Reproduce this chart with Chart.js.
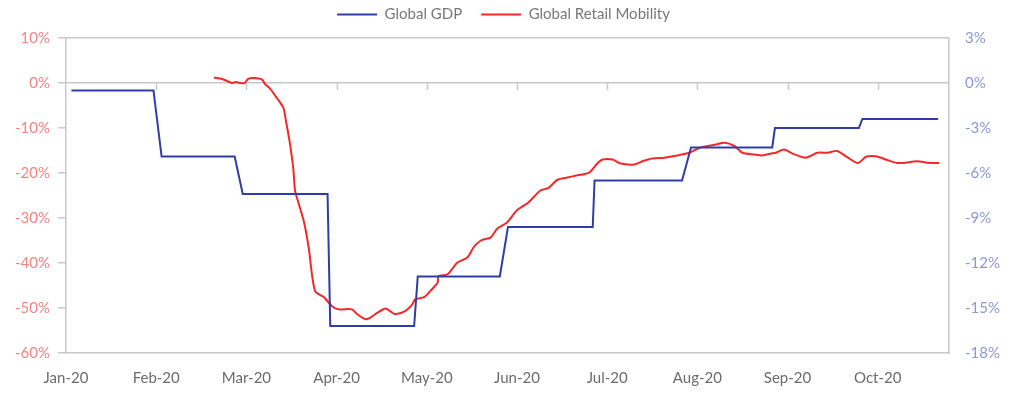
<!DOCTYPE html>
<html lang="en">
<head>
<meta charset="UTF-8">
<title>Global GDP vs Global Retail Mobility</title>
<script src="https://cdn.jsdelivr.net/npm/chart.js@4.4.0/dist/chart.umd.min.js"></script>
<style>
  html, body { margin: 0; padding: 0; background: #fff; }
  #wrap { width: 1024px; height: 397px; position: relative; }
</style>
</head>
<body>
<div id="wrap"><canvas id="myChart"></canvas></div>

<script>
// month labels on the x axis (x values are in months since Jan-20)
var months = ["Jan-20", "Feb-20", "Mar-20", "Apr-20", "May-20", "Jun-20", "Jul-20", "Aug-20", "Sep-20", "Oct-20"];

// Global GDP (right axis, %)
var gdpX = [0.06, 0.97, 1.06, 1.87, 1.96, 2.90, 2.93, 3.86, 3.90, 4.81, 4.90, 5.84, 5.86, 6.83, 6.93, 7.83, 7.86, 8.79, 8.83, 9.67];
var gdpY = [-0.5, -0.5, -4.9, -4.9, -7.4, -7.4, -16.2, -16.2, -12.9, -12.9, -9.6, -9.6, -6.5, -6.5, -4.3, -4.3, -3.0, -3.0, -2.4, -2.4];

// Global Retail Mobility (left axis, %)
var mobX = [1.64, 1.73, 1.78, 1.84, 1.88, 1.93, 1.98, 2.02, 2.08, 2.17, 2.21, 2.26, 2.34, 2.41, 2.44, 2.48, 2.52, 2.54, 2.58, 2.64,
            2.69, 2.76, 2.86, 2.95, 3.02, 3.17, 3.23, 3.32, 3.37, 3.45, 3.54, 3.60, 3.65, 3.76, 3.84, 3.87, 3.97, 4.04, 4.12, 4.13,
            4.23, 4.34, 4.45, 4.52, 4.60, 4.71, 4.78, 4.89, 5.00, 5.13, 5.26, 5.35, 5.45, 5.56, 5.67, 5.80, 5.89, 5.95, 6.06, 6.15,
            6.30, 6.39, 6.50, 6.63, 6.78, 6.91, 7.04, 7.18, 7.30, 7.41, 7.50, 7.63, 7.72, 7.81, 7.87, 7.96, 8.07, 8.20, 8.33, 8.44,
            8.55, 8.67, 8.78, 8.87, 8.98, 9.09, 9.22, 9.44, 9.55, 9.68];
var mobY = [1.2, 0.9, 0.5, 0.0, 0.2, 0.0, 0.0, 0.9, 1.1, 0.8, -0.3, -1.2, -3.4, -5.5, -8.6, -13.1, -19.0, -23.9, -26.8, -31.0,
            -36.5, -46.2, -47.6, -49.6, -50.3, -50.3, -51.4, -52.5, -52.2, -51.1, -50.1, -50.8, -51.4, -50.7, -49.2, -48.1, -47.6, -46.2, -44.4, -42.9,
            -42.5, -39.9, -38.8, -36.5, -35.0, -34.3, -32.4, -31.0, -28.3, -26.5, -23.9, -23.3, -21.5, -21.0, -20.5, -19.9, -17.9, -17.0, -17.0, -17.9,
            -18.1, -17.4, -16.8, -16.6, -16.1, -15.5, -14.3, -13.8, -13.3, -14.0, -15.5, -15.9, -16.1, -15.7, -15.5, -14.8, -15.8, -16.6, -15.5, -15.5,
            -15.1, -16.6, -17.8, -16.4, -16.3, -17.0, -17.8, -17.4, -17.7, -17.8];

var gridGrey = "#c8c8c8";

function toPoints(xs, ys) {
  return xs.map(function (x, i) { return { x: x, y: ys[i] }; });
}

// small tick marks hanging from the 0% line at every month
var zeroTicks = {
  id: "zeroTicks",
  beforeDatasetsDraw: function (chart) {
    var ctx = chart.ctx;
    var xs = chart.scales.x;
    var y0 = chart.scales.y.getPixelForValue(0);
    ctx.save();
    ctx.strokeStyle = gridGrey;
    ctx.lineWidth = 1.5;
    for (var i = 1; i < months.length; i++) {
      var px = Math.round(xs.getPixelForValue(i)) + 0.5;
      ctx.beginPath();
      ctx.moveTo(px, y0);
      ctx.lineTo(px, y0 + 7);
      ctx.stroke();
    }
    ctx.restore();
  }
};

// a bit more room under the legend, and nudge it left a little
var legendGap = {
  id: "legendGap",
  beforeInit: function (chart) {
    var fit = chart.legend.fit;
    chart.legend.fit = function () {
      fit.bind(chart.legend)();
      this.height += 6;
    };
  },
  afterLayout: function (chart) {
    chart.legend.left -= 8;
    chart.legend.right -= 8;
  }
};

Chart.defaults.font.family = "Lato, 'Open Sans', sans-serif";
Chart.defaults.font.size = 15;

new Chart(document.getElementById("myChart"), {
  type: "line",
  data: {
    datasets: [
      {
        label: "Global GDP",
        data: toPoints(gdpX, gdpY),
        yAxisID: "y1",
        borderColor: "#2e3ea6",
        backgroundColor: "#2e3ea6",
        borderWidth: 2,
        pointRadius: 0,
        tension: 0
      },
      {
        label: "Global Retail Mobility",
        data: toPoints(mobX, mobY),
        yAxisID: "y",
        borderColor: "#f42828",
        backgroundColor: "#f42828",
        borderWidth: 2,
        pointRadius: 0,
        tension: 0.25
      }
    ]
  },
  options: {
    responsive: true,
    maintainAspectRatio: false,
    animation: false,
    layout: { padding: { top: -12, left: 7, right: 8, bottom: -6 } },
    plugins: {
      tooltip: { enabled: false },
      legend: {
        position: "top",
        labels: {
          usePointStyle: true,
          pointStyle: "line",
          pointStyleWidth: 40,
          padding: 19,
          color: "#777",
          font: { size: 15 }
        }
      }
    },
    scales: {
      x: {
        type: "linear",
        min: 0,
        max: 9.79,
        afterBuildTicks: function (scale) {
          scale.ticks = months.map(function (m, i) { return { value: i }; });
        },
        grid: { display: false, drawTicks: false },
        border: { display: true, color: gridGrey, width: 1.5 },
        ticks: {
          color: "#6b6b6b",
          padding: 16,
          autoSkip: false,
          maxRotation: 0,
          callback: function (v) { return months[v]; }
        }
      },
      y: {
        position: "left",
        min: -60,
        max: 10,
        afterBuildTicks: function (scale) {
          var t = [];
          for (var v = -60; v <= 10; v += 10) t.push({ value: v });
          scale.ticks = t;
        },
        grid: {
          color: function (c) { return (c.tick && (c.tick.value === 0 || c.tick.value === 10)) ? gridGrey : "rgba(0,0,0,0)"; },
          tickColor: gridGrey,
          tickLength: 8,
          lineWidth: 1.5
        },
        border: { display: true, color: gridGrey, width: 1.5 },
        ticks: {
          color: "#f48484",
          padding: 8,
          callback: function (v) { return v + "%"; }
        }
      },
      y1: {
        position: "right",
        min: -18,
        max: 3,
        afterBuildTicks: function (scale) {
          var t = [];
          for (var v = -18; v <= 3; v += 3) t.push({ value: v });
          scale.ticks = t;
        },
        grid: { drawOnChartArea: false, drawTicks: false },
        border: { display: true, color: gridGrey, width: 1.5 },
        ticks: {
          color: "#8e96d6",
          padding: 16,
          callback: function (v) { return v + "%"; }
        }
      }
    }
  },
  plugins: [zeroTicks, legendGap]
});
</script>
</body>
</html>
